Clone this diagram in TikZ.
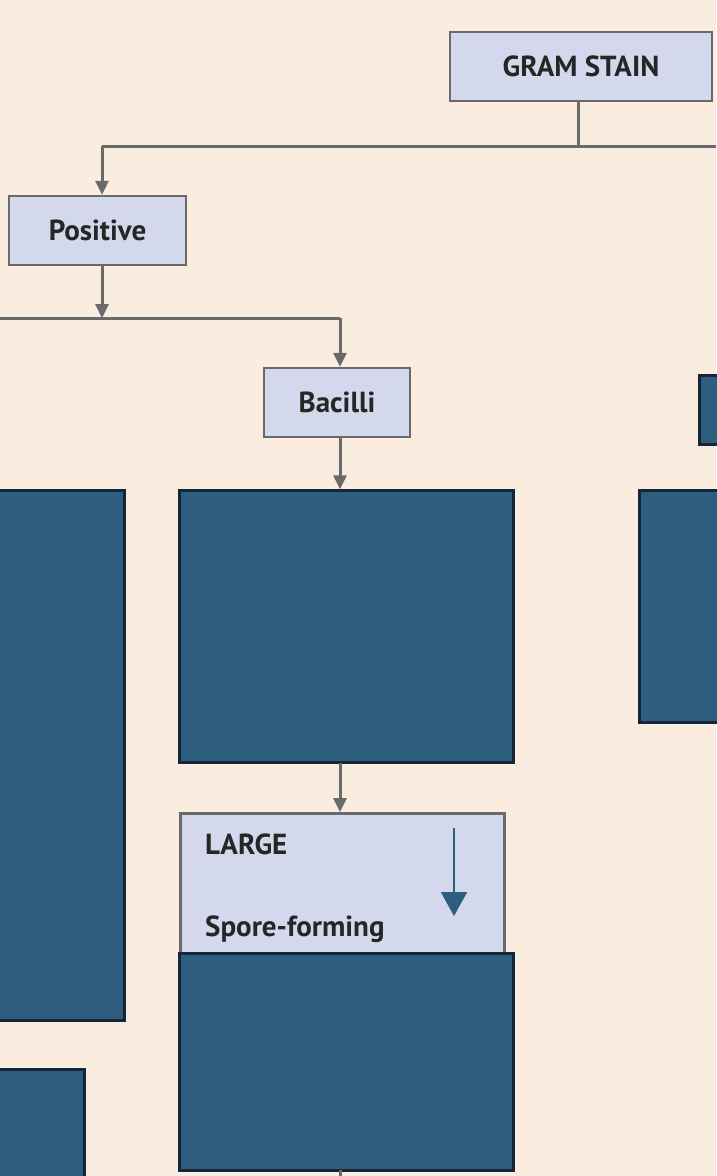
\documentclass[tikz,border=0pt]{standalone}
\usepackage{fontspec}
\setmainfont{PT Sans}
\usetikzlibrary{arrows.meta}
\definecolor{bg}{HTML}{FAEDE0}
\definecolor{lav}{HTML}{D4D8EC}
\definecolor{dk}{HTML}{2E5E7E}
\definecolor{dkb}{HTML}{15263A}
\definecolor{ln}{HTML}{6A6A6A}
\definecolor{txt}{HTML}{262626}
\begin{document}
\begin{tikzpicture}[x=1pt,y=-1pt,
  lbox/.style={draw=ln,line width=2.5pt,fill=lav,text=txt,font=\bfseries\fontsize{29}{30}\selectfont},
  dbox/.style={draw=dkb,line width=3pt,fill=dk},
  conn/.style={draw=ln,line width=3pt},
  arr/.style={conn,-{Triangle[length=14pt,width=13pt]},fill=txt}]
\useasboundingbox[fill=bg] (0,0) rectangle (716,1176);
\node[lbox,minimum width=262pt,minimum height=69pt,inner sep=0] (gram) at (581,66.5) {GRAM STAIN};
\node[lbox,minimum width=177pt,minimum height=69pt,inner sep=0] (pos) at (97.5,230.5) {Positive};
\node[lbox,minimum width=146pt,minimum height=69pt,inner sep=0] (bac) at (337,402.5) {Bacilli};
\draw[dbox] (179,490) rectangle (513,762) coordinate (d1br);
\node[inner sep=0] (d1) at (340,490) {};
\node[inner sep=0] (d1b) at (340,762) {};
\draw[dbox] (-10,490) rectangle (124,1020);
\draw[dbox] (699,375) rectangle (730,444);
\draw[dbox] (639,490) rectangle (730,722);
\draw[dbox] (-10,1069) rectangle (84,1190);
\node[lbox,draw=ln,minimum width=324pt,minimum height=160pt,inner sep=0,anchor=north west] (large) at (179,812) {};
\node[anchor=west,inner sep=0,text=txt,font=\bfseries\fontsize{29}{30}\selectfont] (t1) at (205,844) {LARGE};
\node[anchor=west,inner sep=0,text=txt,font=\bfseries\fontsize{29}{30}\selectfont] (t2) at (205,929) {Spore-forming};
\coordinate (ba) at (454,828);
\coordinate (bb) at (454,916);
\draw[dk,line width=2pt,-{Triangle[length=24pt,width=26pt]}] (ba) -- (bb);
\draw[dbox] (179,953) rectangle (513,1170);
\coordinate (j1) at (578,146);
\coordinate (j1r) at (716,146);
\coordinate (j1l) at (102,146);
\draw[conn] (gram.south -| j1) -- (j1);
\draw[conn] (j1r) -- (j1l);
\draw[arr] (j1l) -- (pos.north -| j1l);
\coordinate (j2) at (102,318);
\coordinate (j2l) at (0,318);
\coordinate (j2r) at (340,318);
\draw[arr] (pos.south -| j2) -- (j2);
\draw[conn] (j2l) -- (j2r);
\draw[arr] (j2r) -- (bac.north -| j2r);
\draw[arr] (bac.south -| d1) -- (d1);
\draw[arr] (d1b) -- (large.north -| d1b);
\coordinate (e1) at (340,1170);
\coordinate (e2) at (340,1180);
\draw[conn] (e1) -- (e2);
\end{tikzpicture}
\end{document}
